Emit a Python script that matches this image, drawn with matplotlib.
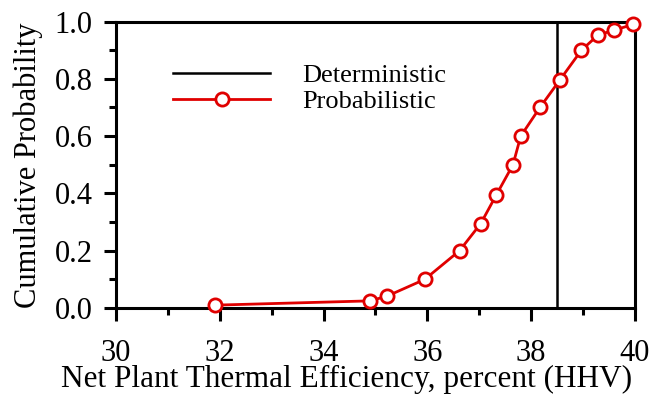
import matplotlib.pyplot as plt
from matplotlib.ticker import MultipleLocator

plt.rcParams['font.family'] = ['Liberation Serif', 'DejaVu Serif']

# cumulative distribution of plant efficiency
efficiency = [31.9, 34.9, 35.23, 35.95, 36.62, 37.03, 37.33, 37.65, 37.8, 38.17, 38.55, 38.97, 39.29, 39.6, 39.97]
cum_prob = [0.01, 0.025, 0.042, 0.10, 0.20, 0.295, 0.395, 0.50, 0.60, 0.70, 0.795, 0.90, 0.953, 0.97, 0.99]
deterministic = 38.5

fig = plt.figure(figsize=(6.61, 3.99), dpi=100)
ax = fig.add_axes([0.1755, 0.228, 0.785, 0.718])

ax.plot([deterministic, deterministic], [0, 1], color='black', lw=1.8, label='Deterministic')
ax.plot(efficiency, cum_prob, color='#e00000', lw=2, marker='o', ms=9.5,
        mfc='white', mec='#e00000', mew=2, label='Probabilistic', clip_on=False, zorder=3)

ax.set_xlim(30, 40)
ax.set_ylim(0, 1)
ax.xaxis.set_major_locator(MultipleLocator(2))
ax.xaxis.set_minor_locator(MultipleLocator(1))
ax.yaxis.set_major_locator(MultipleLocator(0.2))
ax.yaxis.set_minor_locator(MultipleLocator(0.1))
ax.yaxis.set_major_formatter(plt.FormatStrFormatter('%.1f'))

for s in ax.spines.values():
    s.set_linewidth(2.2)
ax.tick_params(which='both', direction='out', width=2.2, top=False, right=False)
ax.tick_params(which='major', length=9, labelsize=22)
ax.tick_params(which='minor', length=5)
ax.tick_params(axis='y', which='major', pad=8)
ax.tick_params(axis='x', which='major', pad=13)

ax.set_xlabel('Net Plant Thermal Efficiency, percent (HHV)', fontsize=22.5, labelpad=0)
ax.xaxis.set_label_coords(0.445, -0.2)
ax.set_ylabel('Cumulative Probability', fontsize=22, labelpad=8)

ax.legend(loc='upper left', bbox_to_anchor=(0.089, 0.89), frameon=False, fontsize=19,
          handlelength=3.7, handletextpad=1.2, labelspacing=0.1, borderaxespad=0)

fig.savefig('out.png', dpi=100)
